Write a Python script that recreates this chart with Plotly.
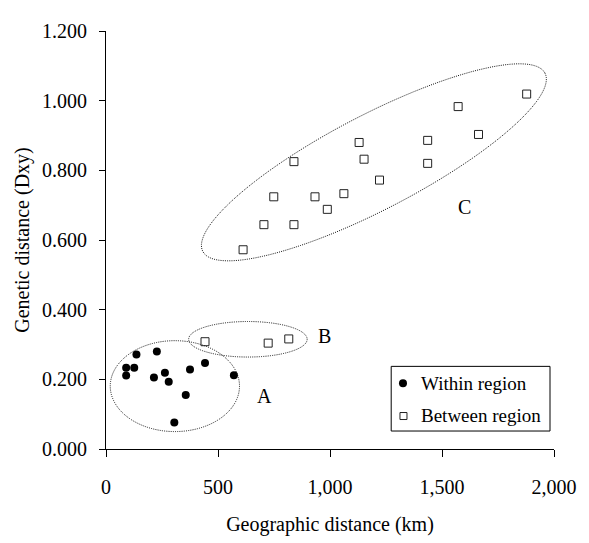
import numpy as np
import plotly.graph_objects as go

# Within region (filled circles)
within_x = [90, 90, 136, 126, 227, 214, 263, 280, 305, 356, 375, 442, 571]
within_y = [0.233, 0.211, 0.271, 0.233, 0.280, 0.205, 0.219, 0.193, 0.076, 0.155, 0.228, 0.247, 0.212]

# Between region (open squares)
between_x = [442, 724, 816,
             612, 705, 839, 749, 839, 933, 988, 1062, 1130, 1152, 1221, 1436, 1436, 1572, 1663, 1878]
between_y = [0.308, 0.304, 0.316,
             0.572, 0.644, 0.644, 0.724, 0.825, 0.724, 0.688, 0.733, 0.880, 0.832, 0.772, 0.886, 0.820, 0.983, 0.903, 1.019]

x_ticks = [0, 500, 1000, 1500, 2000]
y_ticks = [0.0, 0.2, 0.4, 0.6, 0.8, 1.0, 1.2]

series_names = ["Within region", "Between region"]

FONT = "Liberation Serif, Times New Roman, serif"

fig = go.Figure()
fig.add_trace(go.Scatter(
    x=within_x, y=within_y, mode="markers", name=series_names[0],
    marker=dict(symbol="circle", size=8, color="black", line=dict(width=0)),
))
fig.add_trace(go.Scatter(
    x=between_x, y=between_y, mode="markers", name=series_names[1],
    marker=dict(symbol="square-open", size=8, color="#222222", line=dict(width=1)),
))

dot = dict(color="#111111", width=1, dash="1px,1.2px")
# Ellipse A and B
fig.add_shape(type="circle", xref="x", yref="y", x0=19, x1=596, y0=0.050, y1=0.311, line=dot)
fig.add_shape(type="circle", xref="x", yref="y", x0=369, x1=898, y0=0.264, y1=0.366, line=dot)

# Ellipse C (rotated): center and half-axis vectors in data units
cx, cy = 1196, 0.823
ux, uy = 763, 0.257
vx, vy = 104, -0.118
t = np.linspace(0, 2 * np.pi, 121)
px = cx + ux * np.cos(t) + vx * np.sin(t)
py = cy + uy * np.cos(t) + vy * np.sin(t)
path = "M " + " L ".join(f"{a:.2f},{b:.4f}" for a, b in zip(px, py)) + " Z"
fig.add_shape(type="path", xref="x", yref="y", path=path, line=dot)

for txt, ax_, ay_ in [("A", 709, 0.152), ("B", 976, 0.323), ("C", 1602, 0.696)]:
    fig.add_annotation(x=ax_, y=ay_, text=txt, showarrow=False,
                       font=dict(family=FONT, size=20, color="black"))

# Legend box drawn to match the reference layout
fig.add_shape(type="rect", xref="paper", yref="paper", x0=0.6366, x1=0.9911, y0=0.043, y1=0.1977,
              line=dict(color="black", width=1), fillcolor="white", layer="above")
fig.add_shape(type="circle", xref="paper", yref="paper", xsizemode="pixel", ysizemode="pixel",
              xanchor=0.6629, yanchor=0.157, x0=-4, x1=4, y0=-4, y1=4,
              fillcolor="black", line=dict(width=0), layer="above")
fig.add_shape(type="rect", xref="paper", yref="paper", xsizemode="pixel", ysizemode="pixel",
              xanchor=0.6640, yanchor=0.0789, x0=-3.5, x1=3.5, y0=-3.5, y1=3.5,
              fillcolor="white", line=dict(color="#222222", width=1), layer="above")
for name, yy in zip(series_names, [0.157, 0.0805]):
    fig.add_annotation(xref="paper", yref="paper", x=0.698, y=yy, text=name, showarrow=False,
                       xanchor="left", yanchor="middle",
                       font=dict(family=FONT, size=19, color="black"))

# the page body adds an 8px margin, so the figure is drawn 8px smaller
fig.update_layout(
    width=581, height=535,
    margin=dict(l=98, r=34, t=12, b=88),
    paper_bgcolor="white", plot_bgcolor="white",
    font=dict(family=FONT, size=20, color="black"),
    showlegend=False,
)
fig.update_xaxes(
    range=[0, 2000], tickvals=x_ticks, tickformat=",",
    showgrid=False, zeroline=False, showline=True, linecolor="black", linewidth=1,
    ticks="outside", ticklen=7, tickcolor="black", ticklabelstandoff=13,
    title=dict(text="Geographic distance (km)", font=dict(family=FONT, size=20), standoff=19),
)
fig.update_yaxes(
    range=[0, 1.2], tickvals=y_ticks, tickformat=".3f",
    showgrid=False, zeroline=False, showline=True, linecolor="black", linewidth=1,
    ticks="outside", ticklen=6, tickcolor="black", ticklabelstandoff=8,
    title=dict(text="Genetic distance (Dxy)", font=dict(family=FONT, size=20), standoff=7),
)

fig.write_html("out.html")
